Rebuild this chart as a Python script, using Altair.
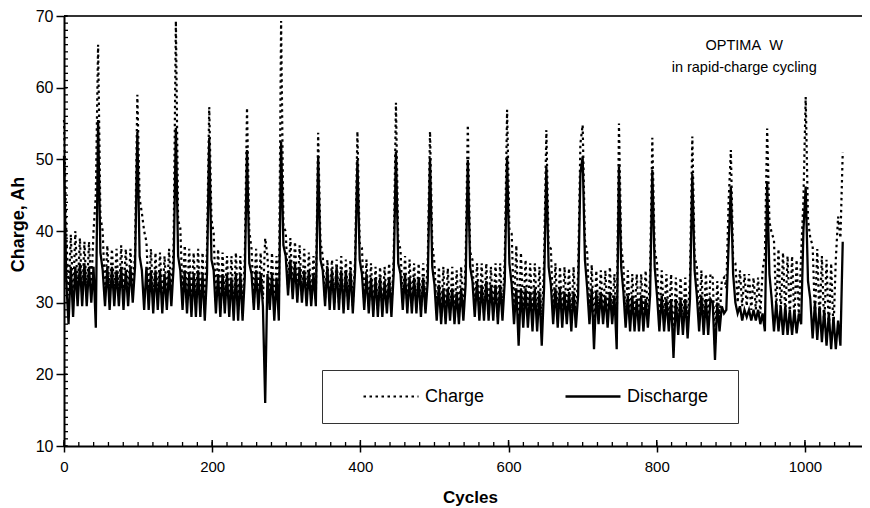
import altair as alt
import pandas as pd

FONT = "Liberation Sans"

# cycle at which each segment starts (each segment begins at a full-charge peak)
seg_start = [0, 46, 99, 151, 196, 247, 293, 343, 396, 448, 494, 545, 598, 651,
             700, 749, 794, 848, 900, 949, 1001, 1051]

charge_segs = [
    [55.5, 40, 31, 39.5, 31, 40, 31.5, 39, 31, 38.5, 31, 38.5, 32, 40, 45],
    [66, 42, 40, 31, 38, 31, 37.5, 31, 37.5, 31, 38, 31, 37.5, 31, 37.5, 31.5, 37],
    [59, 44.5, 42.5, 40, 38.5, 31, 37.5, 30, 37, 30.5, 37, 30, 36.5, 30.5, 37.5, 31, 38],
    [69.3, 41.5, 40.4, 31, 38, 30, 37.5, 30, 37, 29.5, 37.5, 29.5, 37, 29, 37.5],
    [57.3, 41.6, 39.7, 30, 37.5, 29.5, 37, 30, 36.5, 29.5, 36.5, 29, 37, 29, 36.5, 29, 36],
    [57.2, 40, 37.5, 30, 37.5, 30, 37, 30.5, 39, 36.5, 30, 37, 29, 36.5, 29],
    [69.3, 40.5, 40, 32, 39, 31.5, 38.5, 31, 38, 31, 37.5, 30.5, 37, 30.5, 36.5, 30.5],
    [53.7, 38.5, 36.5, 30.5, 36, 30, 36, 30, 36, 30, 36.5, 29.5, 36, 30, 36, 29.5, 36],
    [53.9, 38.3, 37.6, 30, 36, 29.5, 35.5, 29, 35, 29, 35, 29, 35, 29.5, 35.5, 29, 36],
    [57.9, 38.8, 37.4, 30, 36.5, 29.5, 36, 29.5, 35.5, 29.5, 35.5, 29, 35.5, 29.5, 36],
    [53.9, 38.2, 35.5, 28.5, 35, 28, 35, 28, 34.8, 28.5, 35, 28, 34.5, 28, 35, 28.5, 35.5],
    [54.8, 37.1, 36, 29, 35.5, 28.5, 35.5, 28.5, 35.5, 28.5, 35, 28.5, 35.5, 28, 35.5, 28.5, 36],
    [56.9, 40.1, 39.6, 29, 38, 27, 37, 28.5, 36, 28.5, 35.5, 28, 35.5, 28, 35, 27, 35.5],
    [54.1, 38, 37.5, 28.5, 35.5, 28, 35, 28, 35, 28.5, 34.8, 27.5, 35, 28, 34, 52.2],
    [54.8, 38.7, 37, 28.5, 35.3, 26, 34.5, 28.5, 34.5, 28.5, 34.5, 28, 35, 28.5, 34, 26],
    [55, 37.8, 35.3, 28, 34.5, 27.5, 34, 27.5, 34, 27.5, 34, 27.5, 34.5, 28, 34],
    [53, 37.4, 35.5, 27.5, 34.5, 27.5, 34, 27.5, 34, 24, 33.5, 27, 33.5, 27, 33.5, 27, 33.5],
    [53.2, 36.5, 35, 27.5, 34.5, 27, 34, 27, 34, 33.5, 24, 33, 27.5, 33, 33.5, 32, 44],
    [51.3, 36, 35.5, 30, 34.5, 29.5, 34, 29.5, 34, 29, 33.5, 29, 33.5, 28.5, 34.5, 36.7],
    [54.3, 41.3, 39.7, 38.8, 29, 37.5, 28.5, 37, 28, 36.5, 28, 36.5, 27.5, 36, 28, 36.7, 44.3],
    [58.7, 41.5, 39, 38, 28, 37.5, 27, 36.5, 26.5, 36, 26, 35.5, 26, 36, 42, 39],
    [51],
]

discharge_segs = [
    [50.5, 33, 27, 35, 28, 35, 29.5, 35.5, 29.5, 35.5, 29.5, 35, 30, 35, 26.5],
    [55.5, 37, 34.5, 29.5, 35, 29, 35, 29.5, 34.5, 29.5, 35, 29, 34.5, 29.5, 35, 30, 35],
    [53.8, 36.5, 34.5, 29, 35, 29, 34.5, 28.5, 34.5, 29, 34.5, 28.5, 34, 29, 34.5, 29.5, 35],
    [54.4, 36.5, 34.5, 29, 34.5, 28.5, 34, 28, 34, 28, 34.5, 28, 34, 27.5, 34],
    [53, 36, 34.5, 28.5, 34, 28, 34, 28.5, 34, 28, 33.5, 27.5, 34, 27.5, 34, 27.5, 33.5],
    [51.3, 35.5, 34, 29, 34.5, 29, 34, 29.5, 16, 34, 29, 34, 27.5, 33.5, 27.5],
    [52.5, 38, 36.5, 31, 36, 30.5, 35.5, 30, 35, 30, 34.5, 29.5, 34.5, 29.5, 34, 29.5],
    [50.4, 36, 34.5, 29.5, 35, 29, 34.5, 29, 35, 29, 34.5, 28.5, 34.5, 29, 34.5, 28.5, 34.5],
    [49.9, 36, 34, 29, 34, 28.5, 33.5, 28, 33.5, 28, 33.5, 28, 33, 28.5, 33.5, 28, 34],
    [51.1, 35.5, 34, 29, 34, 28.5, 33.5, 28.5, 33.5, 28.5, 33.5, 28, 33.5, 28.5, 33],
    [50.2, 35, 32.5, 27.5, 32.5, 27, 32, 27, 32, 27.5, 32, 27, 31.5, 27, 32, 27.5, 32.5],
    [49.9, 35, 33, 28, 33, 27.5, 32.5, 27.5, 33, 27.5, 32.5, 27.5, 32.5, 27, 32.5, 27.5, 33],
    [50.4, 35.5, 32.5, 27, 32, 24, 32, 26.5, 32, 26.5, 31.5, 26, 32, 26, 31.5, 24, 32],
    [49, 35, 32.5, 27, 32, 26.5, 32, 26.5, 31.5, 27, 31.5, 26, 31.5, 26.5, 31, 48],
    [50.4, 36, 32, 27, 32, 23.5, 31.5, 27, 31.5, 27, 31, 26.5, 31.5, 27, 31, 23.5],
    [49, 35, 31.5, 26.5, 31, 26, 31, 26, 30.5, 26, 31, 26, 30.5, 26.5, 31],
    [48.5, 35, 31, 26, 31, 26, 30.5, 26, 30.5, 22.3, 30.5, 25.5, 30.5, 25.5, 30.5, 25, 30.5],
    [48, 34.5, 31, 26, 31, 25.5, 30.5, 25.5, 30.5, 30, 22, 30, 26, 29.5, 28.5, 29, 38],
    [46.2, 34, 30, 28.5, 29.5, 27.5, 29, 28, 29, 27.5, 29, 27.5, 29, 27, 28.5, 26],
    [46.9, 34, 30.5, 26, 30, 26, 29.5, 25.5, 29.5, 25.5, 29, 25.5, 29, 25.7, 28.5, 27, 40],
    [46.2, 33, 30.5, 25, 30, 24.8, 29.5, 24.5, 29, 24, 28.5, 23.5, 28, 23.5, 27.5, 24],
    [38.5],
]

x_major = [0, 200, 400, 600, 800, 1000]
y_major = [10, 20, 30, 40, 50, 60, 70]
notes = ["OPTIMA\u00a0\u00a0W", "in rapid-charge cycling"]
note_cycle = [918, 918]
note_value = [65.8, 62.7]

W, H = 798, 430
XMAX = 1077


def build(series, segs):
    rows = []
    for i, seg in enumerate(segs):
        start = seg_start[i]
        end = seg_start[i + 1] if i + 1 < len(seg_start) else start + 1
        step = (end - start) / len(seg)
        for k, v in enumerate(seg):
            rows.append({"cycle": start + k * step, "value": v, "series": series})
    return rows


data = pd.DataFrame(build("Charge", charge_segs) + build("Discharge", discharge_segs))
data["order"] = range(len(data))

xs = alt.Scale(domain=[0, XMAX], nice=False, zero=False)
ys = alt.Scale(domain=[10, 70], nice=False, zero=False)

lines = alt.Chart(data).mark_line(color="black", strokeCap="butt", strokeJoin="miter").encode(
    x=alt.X("cycle:Q", scale=xs, axis=alt.Axis(
        values=x_major, format="d", title="Cycles", labelFontSize=15, labelFont=FONT,
        labelColor="black", titleFontSize=17, titleFont=FONT, titleFontWeight="bold",
        titleColor="black", titleX=406, titleY=56, titleBaseline="alphabetic",
        titleAlign="center", tickSize=6, tickWidth=1.5, tickColor="black",
        domainColor="black", domainWidth=2, labelPadding=7, grid=False, labelFlush=False)),
    y=alt.Y("value:Q", scale=ys, axis=alt.Axis(
        values=y_major, title="Charge, Ah", labelFontSize=16, labelFont=FONT, labelColor="black",
        titleFontSize=18, titleFont=FONT, titleFontWeight="bold", titleColor="black",
        titleX=-46, titleY=208, titleAngle=270, titleAlign="center", titleBaseline="middle",
        tickSize=8, tickWidth=1.5, tickColor="black", domainColor="black", domainWidth=2,
        labelPadding=3, grid=False, labelFlush=False)),
    order="order:Q",
    strokeDash=alt.StrokeDash("series:N", scale=alt.Scale(
        domain=["Charge", "Discharge"], range=[[2.5, 3.5], [1, 0]]),
        legend=alt.Legend(
            title="\u00a0", titleOrient="right", titlePadding=14, titleFontSize=10,
            orient="none", legendX=258, legendY=354, direction="horizontal",
            symbolType="stroke", symbolSize=3025, symbolStrokeWidth=2,
            symbolStrokeColor="black", labelFontSize=18, labelFont=FONT,
            labelColor="black", labelOffset=5, columnPadding=55, padding=16,
            clipHeight=21, strokeColor="#333", symbolOffset=24)),
    strokeWidth=alt.StrokeWidth("series:N", scale=alt.Scale(
        domain=["Charge", "Discharge"], range=[2.2, 2.3]), legend=None),
)

ymin = pd.DataFrame({"v": list(range(10, 71))})
xmin = pd.DataFrame({"c": list(range(0, 1077, 20))})
ymaj = pd.DataFrame({"v": y_major})
xmaj = pd.DataFrame({"c": x_major})

y_minor = alt.Chart(ymin).mark_rule(color="black", strokeWidth=1.3).encode(
    y=alt.Y("v:Q", scale=ys), x=alt.value(0), x2=alt.value(4))
x_minor = alt.Chart(xmin).mark_rule(color="black", strokeWidth=1.3).encode(
    x=alt.X("c:Q", scale=xs), y=alt.value(H - 4), y2=alt.value(H))
y_in = alt.Chart(ymaj).mark_rule(color="black", strokeWidth=1.5).encode(
    y=alt.Y("v:Q", scale=ys), x=alt.value(0), x2=alt.value(3))
x_in = alt.Chart(xmaj).mark_rule(color="black", strokeWidth=1.5).encode(
    x=alt.X("c:Q", scale=xs), y=alt.value(H - 6), y2=alt.value(H))
top = alt.Chart(ymaj).mark_rule(color="#333", strokeWidth=1.5).encode(
    x=alt.value(0), x2=alt.value(W), y=alt.value(0))

note_df = pd.DataFrame({"t": notes, "c": note_cycle, "v": note_value})
note = alt.Chart(note_df).mark_text(font=FONT, fontSize=14.5, color="black", baseline="middle",
                                      align="center").encode(
    x=alt.X("c:Q", scale=xs), y=alt.Y("v:Q", scale=ys), text="t:N")

chart = alt.layer(top, y_minor, x_minor, y_in, x_in, lines, note).properties(
    width=W, height=H,
    autosize=alt.AutoSizeParams(type="none"),
    padding={"left": 56, "top": 8, "right": 0, "bottom": 62},
).configure_view(stroke=None).configure(background="white")

chart.save("out.html", embed_options={"renderer": "svg", "actions": False})
